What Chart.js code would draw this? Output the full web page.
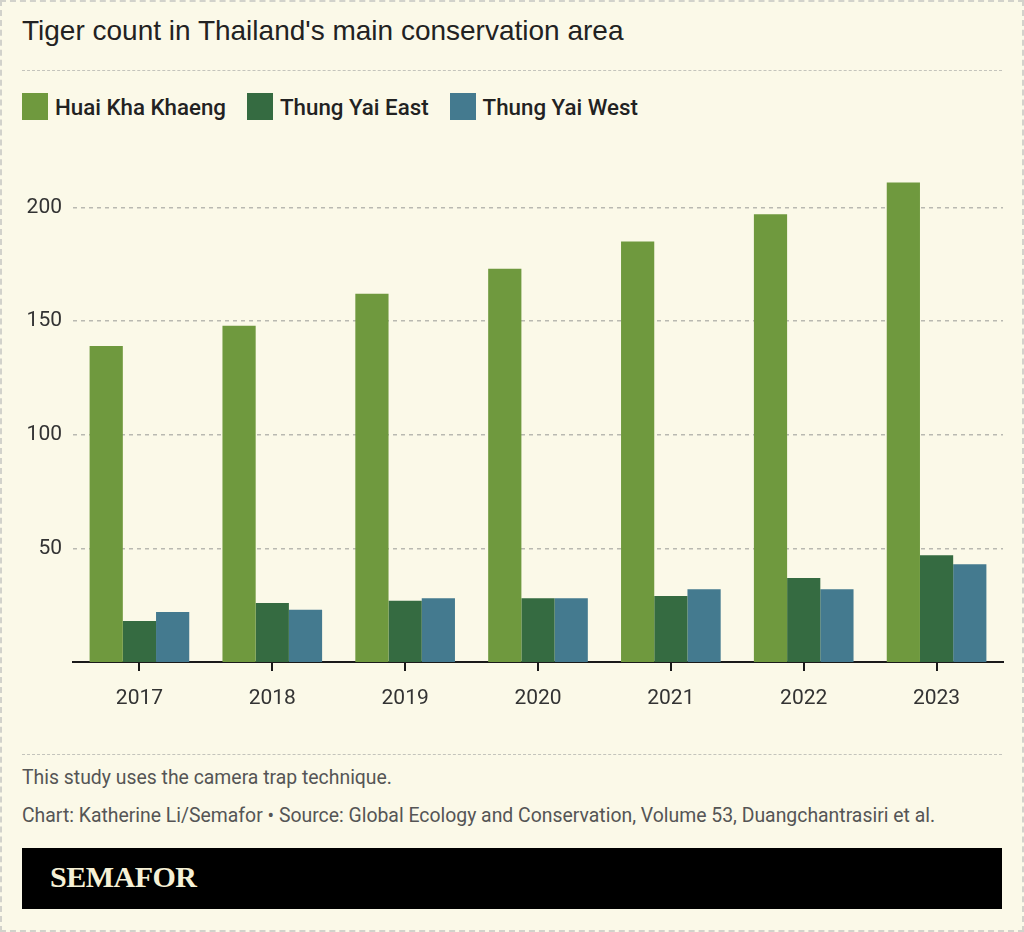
<!DOCTYPE html>
<html>
<head>
<meta charset="utf-8">
<script src="https://cdn.jsdelivr.net/npm/chart.js@4/dist/chart.umd.min.js"></script>
<style>
  html, body { margin:0; padding:0; background:#fbf9e8; }
  #page { position:relative; width:1024px; height:932px; background:#fbf9e8; overflow:hidden; }
  #frame { position:absolute; left:0; top:0; width:1024px; height:932px; box-sizing:border-box; border:2px dashed #d2d2cb; pointer-events:none; }
  #title { position:absolute; left:22px; top:15px; font-family:"Liberation Sans", Arial, sans-serif; font-size:28px; color:#222; white-space:nowrap; }
  .rule { position:absolute; left:22px; width:980px; height:0; border-top:1.5px dashed #c4c4bc; }
  #legend { position:absolute; left:22px; top:93px; display:flex; font-family:Roboto, sans-serif; font-weight:500; font-size:22.3px; color:#222; }
  .item { display:flex; align-items:center; margin-right:21px; }
  .sw { width:26px; height:27px; margin-right:7px; }
  #chartwrap { position:absolute; left:0; top:130px; }
  .foot { position:absolute; left:22px; font-family:Roboto, sans-serif; font-size:19.4px; color:#555; white-space:nowrap; }
  #logo { position:absolute; left:22px; top:848px; width:980px; height:61px; background:#000; }
  #logo span { position:absolute; left:28px; top:12px; font-family:"Liberation Serif", serif; font-weight:bold; font-size:30px; color:#f6f1d6; letter-spacing:-0.5px; }
</style>
</head>
<body>
<div id="page">
  <div id="title">Tiger count in Thailand's main conservation area</div>
  <div class="rule" style="top:70px"></div>
  <div id="legend"></div>
  <div id="chartwrap"><canvas id="c" width="1024" height="620"></canvas></div>
  <div class="rule" style="top:754px"></div>
  <div class="foot" style="top:766px">This study uses the camera trap technique.</div>
  <div class="foot" style="top:804px">Chart: Katherine Li/Semafor • Source: Global Ecology and Conservation, Volume 53, Duangchantrasiri et al.</div>
  <div id="logo"><span>SEMAFOR</span></div>
  <div id="frame"></div>
</div>
<script>
const years = ["2017", "2018", "2019", "2020", "2021", "2022", "2023"];
const huaiKhaKhaeng = [139, 148, 162, 173, 185, 197, 211];
const thungYaiEast = [18, 26, 27, 28, 29, 37, 47];
const thungYaiWest = [22, 23, 28, 28, 32, 32, 43];
const seriesNames = ["Huai Kha Khaeng", "Thung Yai East", "Thung Yai West"];
const seriesColors = ["#6f993e", "#356b41", "#447a8f"];
const yTickValues = [50, 100, 150, 200];

const seriesData = [huaiKhaKhaeng, thungYaiEast, thungYaiWest];

const legend = document.getElementById('legend');
seriesNames.forEach((n, i) => {
  const d = document.createElement('div'); d.className = 'item';
  const s = document.createElement('div'); s.className = 'sw'; s.style.background = seriesColors[i];
  const t = document.createElement('span'); t.textContent = n;
  d.appendChild(s); d.appendChild(t); legend.appendChild(d);
});

new Chart(document.getElementById('c'), {
  type: 'bar',
  data: {
    labels: years,
    datasets: seriesNames.map((n, i) => ({
      label: n,
      data: seriesData[i],
      backgroundColor: seriesColors[i],
      borderWidth: 0,
      categoryPercentage: 0.75,
      barPercentage: 1.0
    }))
  },
  options: {
    responsive: false,
    devicePixelRatio: 1,
    animation: false,
    layout: { padding: { left: 22, right: 21, top: 32, bottom: 18 } },
    plugins: { legend: { display: false }, tooltip: { enabled: false } },
    scales: {
      x: {
        grid: { display: true, drawOnChartArea: false, drawTicks: true, tickLength: 9, tickColor: '#1a1a1a', lineWidth: 2, offset: false },
        border: { display: true, color: '#1a1a1a', width: 2 },
        ticks: { color: '#333', font: { family: 'Roboto', size: 21 }, padding: 15, maxRotation: 0 },
        afterFit: (s) => { s.height = 70; }
      },
      y: {
        min: 0, max: 220,
        afterBuildTicks: (s) => { s.ticks = yTickValues.map(v => ({ value: v })); },
        grid: { color: '#b9b9b1', lineWidth: 1.5, drawTicks: false },
        border: { display: false, dash: [4, 4] },
        ticks: { color: '#333', font: { family: 'Roboto', size: 21 }, padding: 11 },
        afterFit: (s) => { s.width = 51; }
      }
    }
  }
});
</script>
</body>
</html>
